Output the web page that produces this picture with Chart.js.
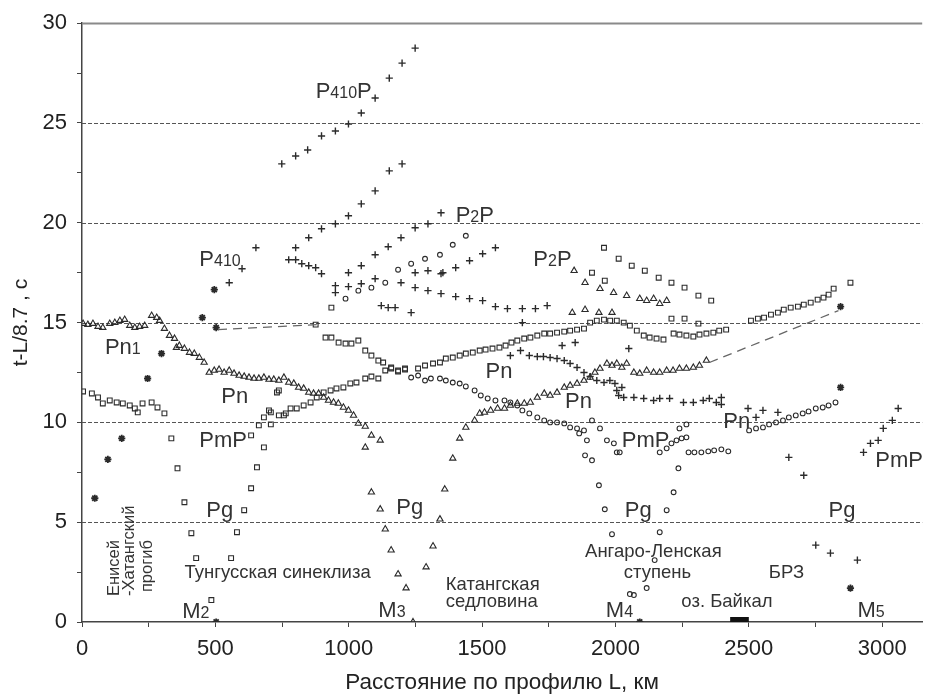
<!DOCTYPE html>
<html>
<head>
<meta charset="utf-8">
<script src="https://cdn.jsdelivr.net/npm/chart.js@4.4.1/dist/chart.umd.min.js"></script>
<style>
  html, body { margin: 0; padding: 0; background: #fff; }
  canvas { display: block; }
</style>
</head>
<body>
<canvas id="c" width="928" height="695"></canvas>
<script>
// Travel-time curves t - L/8.7 (s) versus distance along the profile L (km)

// "+" markers
const p410pUpper = [[749,22.95],[801,23.35],[846,23.65],[898,24.35],[950,24.6],[999,24.95],[1047,25.5],[1099,26.25],[1152,27.25],[1200,28.0],[1249,28.75]];
const p410pLower = [[898,19.7],[950,19.95],[999,20.35],[1047,20.95],[1099,21.6],[1152,22.6],[1200,22.95]];
const p410Plus = [[552,17.0],[600,17.7],[652,18.75],[801,18.75],[850,19.25]];
const p2pPlusUpper = [[999,17.5],[1047,17.85],[1099,18.4],[1148,18.8],[1196,19.25],[1249,19.75],[1297,19.95],[1346,20.5],[1353,17.5],[1401,17.75],[1453,18.1],[1502,18.45],[1550,18.75]];
const p2pPlusMid = [[950,16.5],[999,16.8],[1047,16.95],[1099,17.2],[1196,17.0],[1249,17.5],[1297,17.6],[1346,17.45]];
const p2pPlusLower = [[775,18.15],[801,18.15],[824,17.95],[850,17.85],[876,17.75],[898,17.45],[950,16.85],[1122,15.85],[1148,15.75],[1174,15.75],[1234,15.5],[1249,16.75],[1297,16.6],[1346,16.45],[1401,16.3],[1453,16.2],[1502,16.1],[1550,15.8],[1595,15.7],[1651,15.7],[1700,15.7],[1744,15.85],[1651,15.0]];
const pnPlus = [[1606,13.35],[1644,13.6],[1677,13.35],[1707,13.3],[1730,13.3],[1755,13.25],[1781,13.2],[1808,13.1],[1830,12.95],[1856,12.75],[1882,12.5],[1905,12.3],[1930,12.1],[1957,12.0],[1979,12.1],[1998,11.95],[2024,11.75],[2005,11.6],[2012,11.35],[2031,11.25],[2069,11.25],[2106,11.2],[2143,11.1],[2166,11.2],[2203,11.2],[2255,11.0],[2292,11.0],[2329,11.1],[2352,11.2],[2378,11.0],[2397,11.25],[2397,10.9],[1800,13.85],[1849,14.0],[2050,13.7]];
const rightPlus = [[2497,10.7],[2553,10.6],[2609,10.5],[2527,10.25],[2650,8.25],[2706,7.35],[2751,3.85],[2806,3.45],[2907,3.1],[2930,8.5],[2956,8.95],[2985,9.1],[3004,9.7],[3038,10.1],[3060,10.7]];

// filled star markers
const starPoints = [[48,6.2],[97,8.15],[149,9.2],[246,12.2],[298,13.45],[451,15.25],[496,16.65],[503,14.75],[503,0],[2091,0],[2844,11.75],[2881,1.7],[2844,15.8]];

// open squares
const squaresLeft = [[4,11.55],[37,11.45],[60,11.25],[78,10.95],[104,11.1],[130,11.0],[153,10.95],[179,10.85],[198,10.7],[209,10.5],[227,10.95],[261,11.0],[283,10.75],[309,10.45]];
const squaresPmPLeft = [[335,9.2],[358,7.7],[384,6.0],[410,4.45],[428,3.2],[485,1.1],[559,3.2],[581,4.5],[608,5.6],[634,6.7],[656,7.75],[682,8.75],[634,9.35]];
const squaresPn = [[663,9.85],[682,10.25],[701,10.6],[708,10.5],[708,9.9],[731,11.5],[738,11.6],[738,10.35],[757,10.35],[764,10.45],[782,10.7],[805,10.7],[831,10.85],[857,11.0],[880,11.25],[906,11.5],[932,11.6],[954,11.7],[980,11.75],[1006,11.95],[1029,12.0],[1062,12.2],[1085,12.3],[1111,12.2],[1137,12.6],[1159,12.7],[1185,12.55],[1211,12.7],[1260,12.7],[1286,12.85],[1316,12.95],[1342,13.0],[1364,13.2],[1390,13.25],[1416,13.35],[1439,13.45],[1465,13.5],[1491,13.6],[1513,13.65],[1539,13.7],[1565,13.75],[1588,13.85],[1610,14.0],[1632,14.1],[1658,14.2],[1681,14.25],[1707,14.35],[1733,14.45],[1755,14.45],[1781,14.5],[1808,14.55],[1830,14.6],[1856,14.65],[1882,14.7],[1905,15.0],[1930,15.1],[1957,15.15],[1980,15.1],[2005,15.1],[2031,15.0],[2054,14.85],[2080,14.6],[2106,14.35],[2128,14.25],[2154,14.2],[2180,14.15],[2218,14.45],[2240,14.4],[2266,14.35],[2292,14.3],[2315,14.4],[2341,14.45],[2367,14.5],[2389,14.6],[2415,14.65]];
const squaresDown = [[876,14.9],[913,14.25],[935,14.25],[962,14.0],[988,13.95],[1010,13.95],[1036,14.1],[1062,13.6],[1085,13.35],[1111,13.1],[1129,13.0],[1159,12.75],[1185,12.6],[1211,12.65],[935,15.75]];
const squaresP2P = [[1912,17.5],[1957,18.75],[1960,17.1],[2012,18.2],[2061,17.85],[2110,17.6],[2162,17.25],[2210,17.0],[2259,16.75],[2311,16.35],[2359,16.1],[2210,15.2],[2259,15.2],[2311,14.95]];
const squaresRight = [[2508,15.1],[2534,15.2],[2557,15.25],[2583,15.4],[2609,15.5],[2631,15.65],[2657,15.75],[2684,15.8],[2706,15.9],[2732,16.0],[2758,16.15],[2780,16.25],[2799,16.4],[2818,16.7],[2881,17.0]];

// open circles
const circlesP2P = [[988,16.2],[1036,16.6],[1085,16.75],[1137,17.0],[1185,17.65],[1234,17.95],[1286,18.2],[1342,18.4],[1390,18.9],[1439,19.35]];
const circlesPn = [[1234,12.25],[1260,12.35],[1286,12.1],[1308,12.2],[1342,12.2],[1364,12.1],[1390,12.0],[1416,11.95],[1439,11.8],[1472,11.6],[1495,11.35],[1521,11.2],[1550,11.1],[1584,11.1],[1606,11.0],[1632,10.85],[1651,10.6],[1677,10.45],[1707,10.25],[1733,10.1],[1755,10.0],[1781,10.0],[1808,9.95],[1830,9.75],[1856,9.7],[1882,9.6],[1912,10.1],[1942,9.7]];
const circlesPmP = [[1864,9.45],[1893,9.1],[1886,8.35],[1912,8.1],[1938,6.85],[1960,5.65],[1987,4.4],[2054,1.4],[2069,1.35],[2117,1.7],[2147,3.1],[2166,4.5],[2192,5.6],[2218,6.5],[2236,7.7],[1968,9.1],[1994,8.95],[2016,8.5],[2005,8.5],[2166,8.5],[2192,8.7],[2210,8.95],[2229,9.1],[2248,9.2],[2266,9.25],[2240,9.7],[2266,9.9],[2274,8.5],[2296,8.5],[2322,8.5],[2348,8.55],[2370,8.6],[2397,8.65],[2423,8.55]];
const circlesRight = [[2501,9.6],[2527,9.7],[2553,9.75],[2576,9.9],[2602,10.0],[2628,10.1],[2650,10.25],[2676,10.35],[2702,10.45],[2724,10.55],[2751,10.7],[2777,10.75],[2799,10.85],[2825,11.0]];

// open triangles
const trianglesPn1 = [[4,14.95],[22,14.9],[41,14.95],[60,14.8],[78,14.75],[104,14.95],[123,15.0],[142,15.1],[160,15.15],[179,14.85],[198,14.75],[216,14.8],[235,14.85],[261,15.35],[280,15.25],[291,15.1]];
const trianglesPn = [[309,14.7],[328,14.35],[347,14.2],[354,13.75],[365,13.85],[384,13.7],[403,13.5],[421,13.45],[440,13.25],[458,13.0],[477,12.5],[496,12.6],[514,12.65],[533,12.5],[552,12.6],[570,12.45],[589,12.35],[608,12.3],[626,12.25],[645,12.2],[663,12.2],[682,12.25],[701,12.15],[719,12.15],[738,12.1],[757,12.25],[775,12.0],[794,11.95],[812,11.75],[831,11.7],[850,11.5],[868,11.45],[887,11.45],[906,11.25],[924,11.1],[943,11.0],[961,10.95],[980,10.75],[999,10.6],[1018,10.35],[1036,9.95],[1062,9.8],[1085,9.35],[1118,9.1],[1062,8.75]];
const trianglesPg = [[1085,6.5],[1118,5.65],[1137,4.65],[1159,3.6],[1185,2.4],[1215,1.7],[1241,0],[1290,2.75],[1316,3.8],[1342,5.15],[1360,6.65],[1390,8.2],[1416,9.2],[1439,9.75],[1472,10.1]];
const trianglesPnEast = [[1491,10.45],[1509,10.5],[1532,10.6],[1558,10.7],[1584,10.7],[1606,10.85],[1632,10.95],[1658,10.95],[1681,11.0],[1707,11.25],[1733,11.45],[1755,11.35],[1781,11.5],[1808,11.75],[1830,11.85],[1856,11.95],[1882,12.1],[1905,12.25],[1923,12.5],[1942,12.7],[1968,12.95],[1987,12.85],[2005,12.95],[2024,12.75],[2042,12.95],[2069,12.5],[2091,12.45],[2117,12.6],[2143,12.5],[2166,12.5],[2192,12.6],[2216,12.6],[2240,12.7],[2266,12.7],[2292,12.75],[2315,12.85],[2341,13.1]];
const trianglesP2P = [[1845,17.6],[1886,17.0],[1942,16.7],[1993,16.5],[2042,16.35],[2091,16.2],[2117,16.1],[2143,16.2],[2166,15.95],[2192,16.1],[1838,15.5],[1886,15.65],[1938,15.5],[1987,15.5]];

// dashed correlation lines and the Baikal segment
const dashWest = [[510,14.65],[880,14.9]];
const dashEast = [[2352,13.0],[2836,15.6]];
const baikalBar = [[2430,0.1],[2500,0.1]];

// axis ticks
const xTickStep = 250, xLabelStep = 500;
const yTickStep = 2.5, yLabelStep = 5;
const gridLevels = [5, 10, 15, 20, 25, 30];

// labels: text (with _{...} for smaller characters), x (km), y (s)
const waveLabels = [
  ['P_{410}P', 876, 26.25], ['P_{410}', 440, 17.85], ['P_{2}P', 1401, 20.05], ['P_{2}P', 1692, 17.85],
  ['Pn_{1}', 86, 13.45], ['Pn', 522, 10.95], ['Pn', 1513, 12.2], ['Pn', 1811, 10.7], ['Pn', 2404, 9.7],
  ['PmP', 440, 8.75], ['PmP', 2024, 8.75], ['PmP', 2974, 7.75],
  ['Pg', 466, 5.25], ['Pg', 1178, 5.4], ['Pg', 2035, 5.25], ['Pg', 2799, 5.25],
  ['M_{2}', 376, 0.2], ['M_{3}', 1111, 0.25], ['M_{4}', 1964, 0.25], ['M_{5}', 2907, 0.25]
];
const regionLabels = [
  ['Тунгусская синеклиза', 384, 2.2], ['Катангская', 1364, 1.6], ['седловина', 1364, 0.75],
  ['Ангаро-Ленская', 1886, 3.25], ['ступень', 2031, 2.2], ['БРЗ', 2575, 2.2], ['оз. Байкал', 2247, 0.75]
];
const verticalLabels = [['Енисей', 123, 1.3], ['-Хатангский', 179, 1.3], ['прогиб', 246, 1.5]];

const FONT = '"Liberation Sans", Arial, sans-serif';
const INK = '#2b2b2b';
const toPts = arr => arr.map(([x, y]) => ({ x, y }));

function markerSet(arrays, style, radius, width) {
  return {
    data: toPts([].concat(...arrays)),
    showLine: false,
    pointStyle: style,
    pointRadius: radius,
    pointBorderWidth: width,
    pointBorderColor: INK,
    pointBackgroundColor: style === 'star' ? INK : 'rgba(255,255,255,0)'
  };
}
function lineSet(arr, dash, width, color) {
  return {
    data: toPts(arr), showLine: true, pointRadius: 0, borderDash: dash,
    borderWidth: width, borderColor: color, fill: false
  };
}

// horizontal reference lines
const gridPlugin = {
  id: 'levels',
  beforeDatasetsDraw(chart) {
    const { ctx, chartArea: a, scales: { y } } = chart;
    ctx.save();
    gridLevels.forEach(v => {
      const py = Math.round(y.getPixelForValue(v)) + 0.5;
      ctx.beginPath();
      if (v === 30) { ctx.setLineDash([]); ctx.strokeStyle = '#8a8a8a'; ctx.lineWidth = 2; }
      else { ctx.setLineDash([4, 2]); ctx.strokeStyle = '#555'; ctx.lineWidth = 1; }
      ctx.moveTo(a.left, py); ctx.lineTo(a.right, py); ctx.stroke();
    });
    ctx.restore();
  }
};

function drawRich(ctx, text, x, y, big, small) {
  const parts = [];
  const re = /_\{([^}]*)\}|([^_]+)/g;
  let m;
  while ((m = re.exec(text))) {
    if (m[1] !== undefined) parts.push([m[1], small]); else parts.push([m[2], big]);
  }
  let cx = x;
  parts.forEach(([t, s]) => {
    ctx.font = s + 'px ' + FONT;
    ctx.fillText(t, cx, y);
    cx += ctx.measureText(t).width;
  });
}

const textPlugin = {
  id: 'texts',
  afterDatasetsDraw(chart) {
    const { ctx, scales: { x, y } } = chart;
    ctx.save();
    ctx.fillStyle = '#333';
    ctx.textBaseline = 'alphabetic';
    ctx.textAlign = 'left';
    waveLabels.forEach(([t, vx, vy]) => drawRich(ctx, t, x.getPixelForValue(vx), y.getPixelForValue(vy), 22, 16));
    ctx.font = '18.5px ' + FONT;
    regionLabels.forEach(([t, vx, vy]) => ctx.fillText(t, x.getPixelForValue(vx), y.getPixelForValue(vy)));
    ctx.font = '16.5px ' + FONT;
    ctx.textBaseline = 'middle';
    verticalLabels.forEach(([t, vx, vy]) => {
      ctx.save();
      ctx.translate(x.getPixelForValue(vx), y.getPixelForValue(vy));
      ctx.rotate(-Math.PI / 2);
      ctx.fillText(t, 0, 0);
      ctx.restore();
    });
    ctx.restore();
  }
};

new Chart(document.getElementById('c'), {
  type: 'scatter',
  data: {
    datasets: [
      lineSet(dashWest, [9, 6], 1.3, '#666'),
      lineSet(dashEast, [9, 6], 1.3, '#666'),
      lineSet(baikalBar, [], 6, '#111'),
      markerSet([squaresLeft, squaresPmPLeft, squaresPn, squaresDown, squaresP2P, squaresRight], 'rect', 3.4, 1.1),
      markerSet([circlesP2P, circlesPn, circlesPmP, circlesRight], 'circle', 2.4, 1.1),
      markerSet([trianglesPn1, trianglesPn, trianglesPg, trianglesPnEast, trianglesP2P], 'triangle', 3.6, 1.1),
      markerSet([p410pUpper, p410pLower, p410Plus, p2pPlusUpper, p2pPlusMid, p2pPlusLower, pnPlus, rightPlus], 'cross', 3.6, 1.4),
      markerSet([starPoints], 'star', 3.6, 1.8)
    ]
  },
  options: {
    responsive: false,
    animation: false,
    events: [],
    layout: { padding: { top: 22, right: 1, left: 0, bottom: 0 } },
    plugins: { legend: { display: false }, tooltip: { enabled: false } },
    scales: {
      x: {
        type: 'linear', min: 0, max: 3150,
        afterFit: s => { s.height = 73; },
        ticks: {
          stepSize: xTickStep, includeBounds: false, autoSkip: false, maxRotation: 0,
          callback: v => (v % xLabelStep === 0 ? String(v) : ''),
          font: { size: 22, family: FONT }, color: '#222', padding: 9
        },
        grid: { drawOnChartArea: false, tickLength: 5, color: '#444' },
        border: { color: '#444', width: 1.5 },
        title: { display: true, text: 'Расстояние по профилю L, км', font: { size: 22.5, family: FONT }, color: '#222', padding: { top: 0, bottom: -1 } }
      },
      y: {
        type: 'linear', min: 0, max: 30,
        afterFit: s => { s.width = 82; },
        ticks: {
          stepSize: yTickStep, autoSkip: false,
          callback: v => (v % yLabelStep === 0 ? String(v) : ''),
          font: { size: 22, family: FONT }, color: '#222', padding: 10
        },
        grid: { drawOnChartArea: false, tickLength: 5, color: '#444' },
        border: { color: '#444', width: 1.5 },
        title: { display: true, text: 't-L/8.7 , c', font: { size: 21, family: FONT }, color: '#222', padding: { top: 9, bottom: 0 } }
      }
    }
  },
  plugins: [gridPlugin, textPlugin]
});
</script>
</body>
</html>
